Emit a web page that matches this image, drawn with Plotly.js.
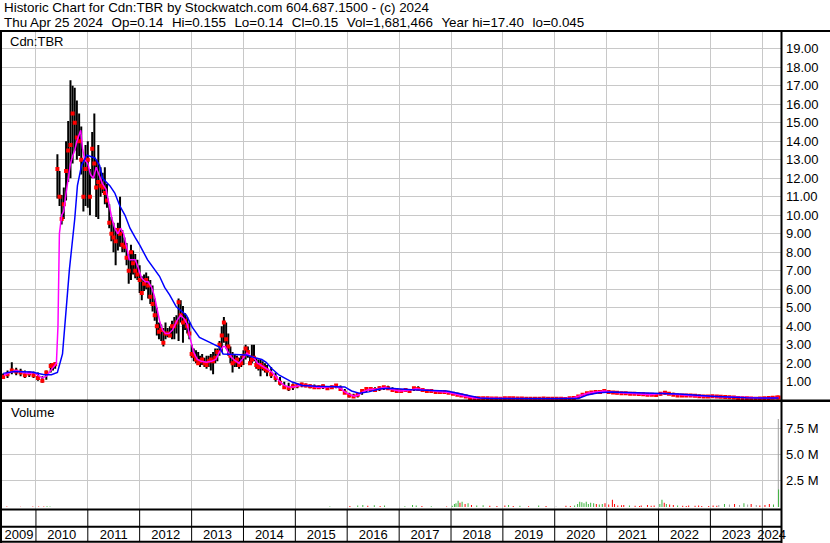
<!DOCTYPE html>
<html><head><meta charset="utf-8">
<script src="https://cdn.plot.ly/plotly-3.0.1.min.js"></script>
<style>html,body{margin:0;padding:0;background:#fff;}#chart{width:830px;height:543px;}</style>
</head><body><div id="chart"></div>
<script>
// ---------- DATA ----------
const priceDates = [
'2009-05-15','2009-06-15','2009-07-15','2009-08-15','2009-09-15','2009-10-15','2009-11-15','2009-12-15','2010-01-15','2010-02-15','2010-03-15','2010-04-15',
'2010-05-01','2010-05-16','2010-06-01','2010-06-16','2010-07-01','2010-07-16','2010-08-01','2010-08-16','2010-09-01','2010-09-16','2010-10-01','2010-10-16','2010-11-01','2010-11-16','2010-12-01','2010-12-16',
'2011-01-01','2011-01-16','2011-02-01','2011-02-16','2011-03-01','2011-03-16','2011-04-01','2011-04-16','2011-05-01','2011-05-16','2011-06-01','2011-06-16','2011-07-01','2011-07-16','2011-08-01','2011-08-16','2011-09-01','2011-09-16','2011-10-01','2011-10-16','2011-11-01','2011-11-16','2011-12-01','2011-12-16',
'2012-01-01','2012-01-16','2012-02-01','2012-02-16','2012-03-01','2012-03-16','2012-04-01','2012-04-16','2012-05-01','2012-05-16','2012-06-01','2012-06-16','2012-07-01','2012-07-16','2012-08-01','2012-08-16','2012-09-01','2012-09-16','2012-10-01','2012-10-16','2012-11-01','2012-11-16','2012-12-01','2012-12-16',
'2013-01-01','2013-01-16','2013-02-01','2013-02-16','2013-03-01','2013-03-16','2013-04-01','2013-04-16','2013-05-01','2013-05-16','2013-06-01','2013-06-16','2013-07-01','2013-07-16','2013-08-01','2013-08-16','2013-09-01','2013-09-16','2013-10-01','2013-10-16','2013-11-01','2013-11-16','2013-12-01','2013-12-16',
'2014-01-01','2014-01-16','2014-02-01','2014-02-16','2014-03-01','2014-03-16','2014-04-01','2014-04-16','2014-05-01','2014-05-16','2014-06-01','2014-06-16',
'2014-07-15','2014-08-15','2014-09-15','2014-10-15','2014-11-15','2014-12-15',
'2015-01-15','2015-02-15','2015-03-15','2015-04-15','2015-05-15','2015-06-15','2015-07-15','2015-08-15','2015-09-15','2015-10-15','2015-11-15','2015-12-15',
'2016-01-15','2016-02-15','2016-03-15','2016-04-15','2016-05-15','2016-06-15','2016-07-15','2016-08-15','2016-09-15','2016-10-15','2016-11-15','2016-12-15',
'2017-01-15','2017-02-15','2017-03-15','2017-04-15','2017-05-15','2017-06-15','2017-07-15','2017-08-15','2017-09-15','2017-10-15','2017-11-15','2017-12-15',
'2018-01-15','2018-02-15','2018-03-15','2018-04-15','2018-05-15','2018-06-15','2018-07-15','2018-08-15','2018-09-15','2018-10-15','2018-11-15','2018-12-15',
'2019-01-15','2019-02-15','2019-03-15','2019-04-15','2019-05-15','2019-06-15','2019-07-15','2019-08-15','2019-09-15','2019-10-15','2019-11-15','2019-12-15',
'2020-01-15','2020-02-15','2020-03-15','2020-04-15','2020-05-15','2020-06-15','2020-07-15','2020-08-15','2020-09-15','2020-10-15','2020-11-15','2020-12-15',
'2021-01-15','2021-02-15','2021-03-15','2021-04-15','2021-05-15','2021-06-15','2021-07-15','2021-08-15','2021-09-15','2021-10-15','2021-11-15','2021-12-15',
'2022-01-15','2022-02-15','2022-03-15','2022-04-15','2022-05-15','2022-06-15','2022-07-15','2022-08-15','2022-09-15','2022-10-15','2022-11-15','2022-12-15',
'2023-01-15','2023-02-15','2023-03-15','2023-04-15','2023-05-15','2023-06-15','2023-07-15','2023-08-15','2023-09-15','2023-10-15','2023-11-15','2023-12-15',
'2024-01-15','2024-02-15','2024-03-15','2024-04-15','2024-04-25'
];
const priceHigh = [
1.45,1.6,2.05,1.75,1.7,1.6,1.55,1.55,1.5,1.3,1.6,2.0,
2.0,2.05,13.3,12.4,11.1,11.5,14.0,15.1,17.3,17.0,16.9,16.2,15.5,14.8,13.0,13.8,
14.0,12.5,14.5,15.5,13.0,13.8,12.6,12.3,12.6,11.7,10.6,9.9,9.6,9.3,9.6,11.0,9.2,8.8,8.5,7.9,8.4,8.1,7.9,7.6,
7.3,6.7,6.8,6.9,6.7,6.5,6.2,5.5,5.0,4.2,4.1,3.9,4.2,3.9,4.0,4.3,4.5,4.6,5.5,5.4,5.1,4.7,4.5,4.2,
3.0,2.8,2.7,2.6,2.4,2.5,2.3,2.4,2.4,2.5,2.6,2.8,2.8,3.2,4.0,4.5,4.2,3.6,2.9,2.6,2.5,2.4,2.3,2.4,
2.7,3.0,2.9,2.4,3.0,3.0,2.3,2.2,2.2,2.1,2.0,1.9,
1.8,1.5,1.25,1.0,0.95,0.9,
0.9,0.95,0.9,0.85,0.85,0.8,0.85,0.75,0.8,0.85,0.8,0.6,
0.4,0.35,0.35,0.55,0.65,0.7,0.7,0.75,0.75,0.78,0.7,0.6,
0.6,0.6,0.6,0.72,0.75,0.65,0.6,0.6,0.55,0.55,0.5,0.5,
0.45,0.4,0.35,0.3,0.2,0.16,0.15,0.14,0.13,0.13,0.12,0.12,
0.13,0.14,0.13,0.12,0.12,0.11,0.11,0.1,0.1,0.15,0.11,0.1,
0.11,0.11,0.1,0.12,0.14,0.25,0.35,0.42,0.48,0.5,0.52,0.58,
0.55,0.5,0.48,0.45,0.45,0.42,0.42,0.4,0.4,0.38,0.38,0.36,
0.42,0.48,0.45,0.4,0.35,0.33,0.32,0.33,0.3,0.3,0.28,0.27,
0.28,0.27,0.25,0.24,0.22,0.2,0.18,0.17,0.16,0.15,0.14,0.14,
0.15,0.16,0.17,0.18,0.155
];
const priceLow = [
1.15,1.2,1.4,1.35,1.3,1.2,1.25,1.2,1.05,0.95,1.1,1.5,
1.6,1.7,10.9,10.5,9.5,9.8,10.8,11.8,12.0,12.8,13.5,13.0,13.2,12.2,10.2,10.5,
10.4,10.0,12.0,12.0,9.9,9.8,11.0,11.2,10.6,10.4,9.3,8.6,8.0,7.3,8.1,8.3,8.0,8.0,7.3,6.3,6.5,6.8,6.6,6.5,
5.8,5.4,5.9,6.0,5.5,5.2,4.8,4.3,3.5,3.3,3.2,2.9,3.3,3.4,3.4,3.3,3.3,3.6,3.2,4.2,3.1,3.8,3.6,3.3,
2.3,2.1,2.0,1.9,1.8,1.9,1.8,1.7,1.8,1.6,1.4,2.0,2.1,2.4,2.6,3.1,2.8,2.4,2.0,1.5,1.8,1.8,1.7,1.8,
1.9,2.2,2.3,1.9,2.0,2.1,1.7,1.6,1.3,1.6,1.5,1.3,
1.2,1.0,0.8,0.6,0.5,0.55,
0.65,0.7,0.7,0.65,0.6,0.6,0.6,0.55,0.6,0.65,0.5,0.35,
0.15,0.15,0.15,0.3,0.45,0.5,0.45,0.5,0.55,0.6,0.45,0.45,
0.45,0.45,0.45,0.5,0.55,0.5,0.45,0.45,0.4,0.4,0.38,0.35,
0.3,0.25,0.2,0.15,0.1,0.09,0.08,0.08,0.08,0.07,0.07,0.06,
0.07,0.08,0.08,0.07,0.07,0.06,0.06,0.06,0.06,0.06,0.06,0.05,
0.06,0.06,0.05,0.06,0.08,0.1,0.2,0.28,0.32,0.35,0.38,0.4,
0.38,0.35,0.32,0.3,0.3,0.28,0.28,0.27,0.26,0.25,0.25,0.22,
0.25,0.3,0.3,0.26,0.2,0.2,0.18,0.2,0.18,0.17,0.16,0.15,
0.16,0.15,0.14,0.13,0.12,0.1,0.09,0.08,0.07,0.06,0.05,0.05,
0.07,0.08,0.09,0.12,0.14
];
const priceClose = [
1.25,1.4,1.6,1.55,1.5,1.35,1.45,1.35,1.2,1.05,1.5,1.85,
1.9,1.95,12.5,11.0,9.8,10.6,12.4,13.5,13.8,15.5,15.0,14.2,14.0,13.0,11.0,12.5,
13.0,11.0,13.6,12.8,11.5,11.8,11.6,11.5,11.2,10.8,9.6,9.0,8.8,8.6,9.2,9.0,8.4,8.3,7.7,7.0,8.0,7.4,7.0,6.8,
6.5,5.8,6.3,6.5,6.2,5.6,5.2,4.6,4.0,3.7,3.8,3.1,3.6,3.6,3.5,4.0,4.0,4.2,5.3,4.6,4.2,4.3,4.0,3.6,
2.5,2.4,2.2,2.0,2.1,2.2,2.0,1.9,2.1,2.2,2.1,2.3,2.6,3.0,3.5,4.2,3.3,2.9,2.4,2.0,2.1,2.2,1.9,2.0,
2.4,2.8,2.6,2.0,2.2,2.3,1.9,1.8,1.9,1.8,1.7,1.6,
1.4,1.2,0.95,0.7,0.65,0.75,
0.8,0.85,0.8,0.75,0.7,0.7,0.75,0.65,0.7,0.8,0.6,0.4,
0.25,0.2,0.3,0.5,0.6,0.6,0.55,0.65,0.7,0.65,0.55,0.5,
0.5,0.55,0.5,0.65,0.6,0.55,0.5,0.5,0.45,0.45,0.45,0.4,
0.35,0.3,0.25,0.2,0.12,0.12,0.1,0.1,0.1,0.09,0.09,0.08,
0.1,0.1,0.1,0.09,0.09,0.08,0.08,0.08,0.08,0.09,0.08,0.08,
0.08,0.08,0.07,0.1,0.12,0.2,0.3,0.38,0.42,0.45,0.45,0.5,
0.45,0.42,0.4,0.38,0.38,0.35,0.35,0.33,0.32,0.3,0.3,0.28,
0.35,0.4,0.35,0.3,0.25,0.25,0.25,0.26,0.24,0.22,0.2,0.2,
0.22,0.2,0.18,0.17,0.16,0.14,0.12,0.11,0.1,0.09,0.08,0.09,
0.1,0.12,0.13,0.15,0.15
];
// short moving average (magenta)
const maShortDates = ['2009-05-20','2009-07-01','2009-08-15','2009-10-01','2009-11-15','2009-12-15','2010-01-15','2010-02-15','2010-03-15','2010-04-15','2010-05-25','2010-06-05','2010-06-15','2010-07-01','2010-07-15','2010-08-01','2010-08-16','2010-09-01','2010-09-16','2010-10-01','2010-10-16','2010-11-01','2010-11-12','2010-11-25','2010-12-10','2011-01-01','2011-01-20','2011-02-10','2011-03-01','2011-03-20','2011-04-15','2011-05-10','2011-06-01','2011-06-20','2011-07-10','2011-08-01','2011-08-20','2011-09-10','2011-10-01','2011-10-20','2011-11-10','2011-12-01','2011-12-20','2012-01-15','2012-02-10','2012-03-01','2012-03-25','2012-04-15','2012-05-01','2012-05-20','2012-06-10','2012-07-01','2012-07-25','2012-08-20','2012-09-20','2012-10-15','2012-11-10','2012-12-01','2012-12-20','2013-01-15','2013-02-10','2013-03-10','2013-04-15','2013-05-20','2013-06-20','2013-07-15','2013-08-10','2013-08-25','2013-09-15','2013-10-10','2013-11-01','2013-12-01','2014-01-01','2014-01-25','2014-02-15','2014-03-15','2014-04-10','2014-05-10','2014-06-10','2014-07-15','2014-08-15','2014-09-15','2014-10-15','2014-11-15','2014-12-15','2015-02-01','2015-04-01','2015-06-01','2015-08-01','2015-10-01','2015-11-15','2015-12-15','2016-01-20','2016-02-20','2016-03-20','2016-04-20','2016-06-01','2016-08-01','2016-09-25','2016-11-01','2017-01-01','2017-03-01','2017-05-01','2017-07-01','2017-10-01','2017-12-15','2018-02-15','2018-04-15','2018-06-15','2018-10-01','2019-03-01','2019-08-01','2020-01-01','2020-05-01','2020-07-01','2020-09-01','2020-12-15','2021-03-01','2021-07-01','2021-11-01','2022-02-01','2022-04-15','2022-08-01','2022-12-01','2023-04-01','2023-08-01','2023-12-01','2024-02-15','2024-04-25'];
const maShort = [1.35,1.5,1.6,1.5,1.45,1.5,1.35,1.2,1.3,1.6,2.0,4.0,9.0,10.0,10.2,11.2,12.0,12.8,13.2,13.5,14.0,14.4,14.6,13.6,13.0,12.8,12.2,12.0,12.6,12.2,11.7,11.4,10.6,9.8,9.3,9.0,9.3,9.0,8.3,7.6,7.6,7.6,7.2,6.6,6.4,6.4,6.1,5.6,5.0,4.3,3.8,3.6,3.6,3.8,4.3,4.6,4.4,4.1,3.4,2.6,2.2,2.1,2.05,2.1,2.2,2.6,2.9,2.9,2.6,2.3,2.15,2.0,2.3,2.55,2.4,2.3,2.0,1.85,1.7,1.55,1.3,1.0,0.8,0.72,0.72,0.8,0.8,0.7,0.68,0.75,0.65,0.45,0.3,0.22,0.28,0.45,0.58,0.6,0.7,0.6,0.5,0.52,0.62,0.55,0.47,0.42,0.3,0.2,0.12,0.1,0.1,0.08,0.08,0.1,0.25,0.4,0.5,0.42,0.36,0.3,0.37,0.32,0.25,0.21,0.18,0.12,0.09,0.11,0.14];
// long moving average (blue)
const maLongDates = ['2009-05-15','2009-08-01','2009-12-01','2010-01-20','2010-03-01','2010-04-20','2010-05-20','2010-06-01','2010-07-07','2010-07-22','2010-08-25','2010-10-01','2010-10-20','2010-11-18','2010-12-25','2011-02-20','2011-03-25','2011-04-15','2011-06-05','2011-07-10','2011-08-15','2011-09-20','2011-10-25','2011-11-30','2012-01-01','2012-02-25','2012-04-15','2012-05-20','2012-06-25','2012-07-30','2012-09-15','2012-10-20','2012-11-25','2013-01-05','2013-02-25','2013-05-05','2013-07-15','2013-08-10','2014-01-20','2014-03-30','2014-05-10','2014-06-10','2014-07-20','2014-09-10','2014-10-30','2014-12-10','2015-02-20','2015-06-01','2015-12-15','2016-02-01','2016-03-25','2016-06-01','2016-08-15','2016-10-25','2017-04-01','2017-12-01','2018-02-01','2018-04-25','2018-07-25','2018-10-01','2020-06-15','2020-08-25','2020-11-05','2021-02-05','2021-08-15','2022-01-20','2022-05-25','2023-01-10','2023-09-10','2024-04-25'];
const maLong = [1.45,1.55,1.52,1.45,1.38,1.38,1.45,1.5,2.5,3.95,7.1,9.8,11.6,12.7,13.25,13.1,12.7,12.0,11.6,11.2,10.5,10.0,9.3,8.8,8.4,7.6,7.1,6.7,6.1,5.7,5.05,4.85,4.6,3.95,3.4,3.14,2.87,2.5,2.45,2.28,2.2,2.05,1.7,1.35,1.17,0.98,0.8,0.75,0.72,0.5,0.38,0.45,0.6,0.65,0.57,0.5,0.4,0.27,0.12,0.09,0.09,0.3,0.4,0.45,0.4,0.36,0.33,0.22,0.13,0.12];
// volume (millions of shares); direction: 1 up, -1 down, 0 unchanged
const volDates = ['2009-06-10','2009-09-15','2009-12-10','2010-01-20','2010-02-25','2010-03-20','2010-04-10','2015-09-01','2016-01-20','2016-03-15','2016-04-20','2016-05-25','2016-07-10','2016-08-20','2016-09-20','2017-02-10','2017-04-05','2017-05-01','2017-06-10','2017-08-15','2017-12-01','2018-01-10','2018-01-25','2018-02-05','2018-02-20','2018-03-05','2018-03-20','2018-04-10','2018-05-01','2018-05-25','2018-07-01','2018-08-15','2018-10-01','2018-11-20','2019-01-15','2019-02-10','2019-03-15','2019-05-01','2019-07-01','2019-09-10','2019-11-01','2020-01-10','2020-03-20','2020-04-20','2020-05-20','2020-06-10','2020-06-25','2020-07-10','2020-07-25','2020-08-10','2020-08-25','2020-09-10','2020-10-01','2020-10-20','2020-11-10','2020-12-01','2020-12-20','2021-01-15','2021-02-10','2021-02-25','2021-03-20','2021-04-15','2021-05-01','2021-06-10','2021-07-20','2021-08-20','2021-09-01','2021-10-15','2021-11-10','2021-12-01','2022-01-10','2022-01-25','2022-02-10','2022-02-25','2022-03-20','2022-04-15','2022-05-15','2022-06-20','2022-07-15','2022-08-01','2022-09-15','2022-10-10','2022-11-01','2022-12-20','2023-01-20','2023-02-15','2023-03-01','2023-04-10','2023-05-15','2023-06-20','2023-07-25','2023-08-25','2023-09-20','2023-10-15','2023-11-20','2023-12-15','2024-01-20','2024-02-20','2024-03-20','2024-04-23','2024-04-25'];
const volValues = [0.04,0.03,0.05,0.06,0.05,0.08,0.06,0.05,0.1,0.15,0.2,0.12,0.18,0.1,0.15,0.08,0.2,0.15,0.1,0.08,0.06,0.12,0.3,0.35,0.6,0.4,0.5,0.3,0.35,0.2,0.15,0.18,0.12,0.1,0.15,0.2,0.1,0.12,0.08,0.15,0.1,0.05,0.12,0.1,0.15,0.3,0.5,0.45,0.35,0.5,0.3,0.4,0.35,0.3,0.25,0.3,0.35,0.25,0.7,0.3,0.15,0.18,0.2,0.15,0.12,0.1,0.15,0.2,0.12,0.15,0.3,0.7,0.4,0.3,0.25,0.2,0.15,0.12,0.1,0.15,0.12,0.15,0.1,0.1,0.15,0.12,0.2,0.3,0.25,0.3,0.2,0.35,0.25,0.3,0.2,0.15,0.2,0.3,0.25,8.4,1.68];
const volDir = [-1,-1,-1,-1,-1,1,1,1,-1,1,1,-1,1,-1,1,1,1,1,-1,1,-1,1,1,1,1,-1,1,-1,1,-1,1,1,-1,-1,-1,1,-1,1,-1,1,-1,0,-1,-1,1,1,1,1,1,1,1,1,1,-1,1,1,-1,-1,-1,-1,-1,-1,-1,1,-1,-1,-1,-1,-1,-1,1,1,-1,1,-1,-1,1,-1,-1,-1,-1,-1,-1,-1,-1,-1,0,1,0,-1,0,1,0,-1,0,-1,-1,-1,1,0,1];
// axes
const yearStarts = ['2010-01-01','2011-01-01','2012-01-01','2013-01-01','2014-01-01','2015-01-01','2016-01-01','2017-01-01','2018-01-01','2019-01-01','2020-01-01','2021-01-01','2022-01-01','2023-01-01','2024-01-01'];
const yearLabelPos = ['2009-09-03','2010-07-02','2011-07-02','2012-07-02','2013-07-02','2014-07-02','2015-07-02','2016-07-02','2017-07-02','2018-07-02','2019-07-02','2020-07-02','2021-07-02','2022-07-02','2023-07-02','2024-03-07'];
const yearLabels = ['2009','2010','2011','2012','2013','2014','2015','2016','2017','2018','2019','2020','2021','2022','2023','2024'];
const priceTicks = [1,2,3,4,5,6,7,8,9,10,11,12,13,14,15,16,17,18,19];
const volTicks = [2.5,5,7.5];
const volTickText = ['2.5 M','5.0 M','7.5 M'];
const GAP = '\u00a0\u00a0\u200a';
const headerLine1 = 'Historic Chart for Cdn:TBR by Stockwatch.com 604.687.1500 - (c) 2024';
const headerLine2 = ['Thu Apr 25 2024','Op=0.14','Hi=0.155','Lo=0.14','Cl=0.15','Vol=1,681,466','Year hi=17.40','lo=0.045'].join(GAP);

// ---------- CHART ----------
const W = 830, H = 543;
const fx = p => p / W, fy = p => 1 - p / H;
const FONT = 'Liberation Sans, Arial, sans-serif';
const GRID = '#c8c8c8';
const xRange = ['2009-05-07', '2024-05-12'];

const segX = [], segY = [];
priceDates.forEach((d, i) => { segX.push(d, d, null); segY.push(priceLow[i], priceHigh[i], null); });
const dirColor = {'1': '#3cb43c', '-1': '#ff0000', '0': '#a0a0a0'};

const traces = [
  {type:'scatter', mode:'lines', x:segX, y:segY, xaxis:'x', yaxis:'y', line:{color:'#000', width:2}, hoverinfo:'skip', connectgaps:false},
  {type:'scatter', mode:'markers', x:priceDates, y:priceClose, xaxis:'x', yaxis:'y', marker:{symbol:'square', size:4, color:'#ff0000', line:{width:0}}, hoverinfo:'skip'},
  {type:'scatter', mode:'lines', x:maShortDates, y:maShort, xaxis:'x', yaxis:'y', line:{color:'#ff00ff', width:1.5}, hoverinfo:'skip'},
  {type:'scatter', mode:'lines', x:maLongDates, y:maLong, xaxis:'x', yaxis:'y', line:{color:'#0000ff', width:1.5}, hoverinfo:'skip'},
  {type:'bar', x:volDates, y:volValues, xaxis:'x2', yaxis:'y2', width:7*86400000, marker:{color:volDir.map(v => dirColor[String(v)]), line:{width:0}}, hoverinfo:'skip'}
];

const shapes = [];
const blk = (x0,y0,x1,y1,w) => shapes.push({type:'line', xref:'paper', yref:'paper', x0:fx(x0), y0:fy(y0), x1:fx(x1), y1:fy(y1), line:{color:'#000', width:w}});
blk(0,31,830,31,2);
blk(1,31,1,543,2);
blk(781.5,31,781.5,543,2);
blk(0,400.8,830,400.8,2.5);
blk(0,509.5,782,509.5,2);
blk(0,526.7,782,526.7,2);
blk(0,541.8,782,541.8,2);
yearStarts.forEach(d => shapes.push({type:'line', xref:'x2', yref:'paper', x0:d, x1:d, y0:fy(509.5), y1:fy(542), line:{color:'#000', width:1}}));

const annotations = [
  {text:headerLine1, xref:'paper', yref:'paper', x:fx(2), y:fy(8), xanchor:'left', yanchor:'middle', showarrow:false, font:{family:FONT, size:13.4, color:'#000'}},
  {text:headerLine2, xref:'paper', yref:'paper', x:fx(2), y:fy(22), xanchor:'left', yanchor:'middle', showarrow:false, font:{family:FONT, size:13.4, color:'#000'}},
  {text:'Cdn:TBR', xref:'paper', yref:'paper', x:fx(8), y:fy(41), xanchor:'left', yanchor:'middle', showarrow:false, font:{family:FONT, size:13, color:'#000'}},
  {text:'Volume', xref:'paper', yref:'paper', x:fx(9), y:fy(413), xanchor:'left', yanchor:'middle', showarrow:false, font:{family:FONT, size:13, color:'#000'}}
];

const layout = {
  width: W, height: H,
  margin: {l:0, r:0, t:0, b:0, pad:0},
  paper_bgcolor: '#fff', plot_bgcolor: '#fff',
  showlegend: false,
  font: {family: FONT, size: 13, color: '#000'},
  xaxis: {domain:[fx(2), fx(781)], range:xRange, type:'date', anchor:'y',
          tickmode:'array', tickvals:yearStarts, showticklabels:false, ticks:'',
          showgrid:true, gridcolor:GRID, gridwidth:1, zeroline:false, showline:false},
  yaxis: {domain:[fy(400.2), fy(32)], range:[0, 19.91], side:'right', anchor:'x',
          tickmode:'array', tickvals:priceTicks, tickformat:'.2f', ticks:'', ticklabelstandoff:4,
          showgrid:true, gridcolor:GRID, gridwidth:1, zeroline:false, showline:false,
          tickfont:{family:FONT, size:13, color:'#000'}},
  xaxis2: {domain:[fx(2), fx(781)], range:xRange, type:'date', anchor:'y2',
          tickmode:'array', tickvals:yearLabelPos, ticktext:yearLabels, ticks:'', ticklabelstandoff:16,
          showgrid:false, zeroline:false, showline:false,
          tickfont:{family:FONT, size:13, color:'#000'},
          minor:{tickmode:'array', tickvals:yearStarts, showgrid:true, gridcolor:GRID, gridwidth:1, ticks:''}},
  yaxis2: {domain:[fy(508.5), fy(401.5)], range:[-0.14, 10.07], side:'right', anchor:'x2',
          tickmode:'array', tickvals:volTicks, ticktext:volTickText, ticks:'', ticklabelstandoff:4,
          showgrid:true, gridcolor:GRID, gridwidth:1, zeroline:false, showline:false,
          tickfont:{family:FONT, size:13, color:'#000'}},
  shapes: shapes,
  annotations: annotations
};

Plotly.newPlot('chart', traces, layout, {displayModeBar:false, staticPlot:true});
</script>
</body></html>
